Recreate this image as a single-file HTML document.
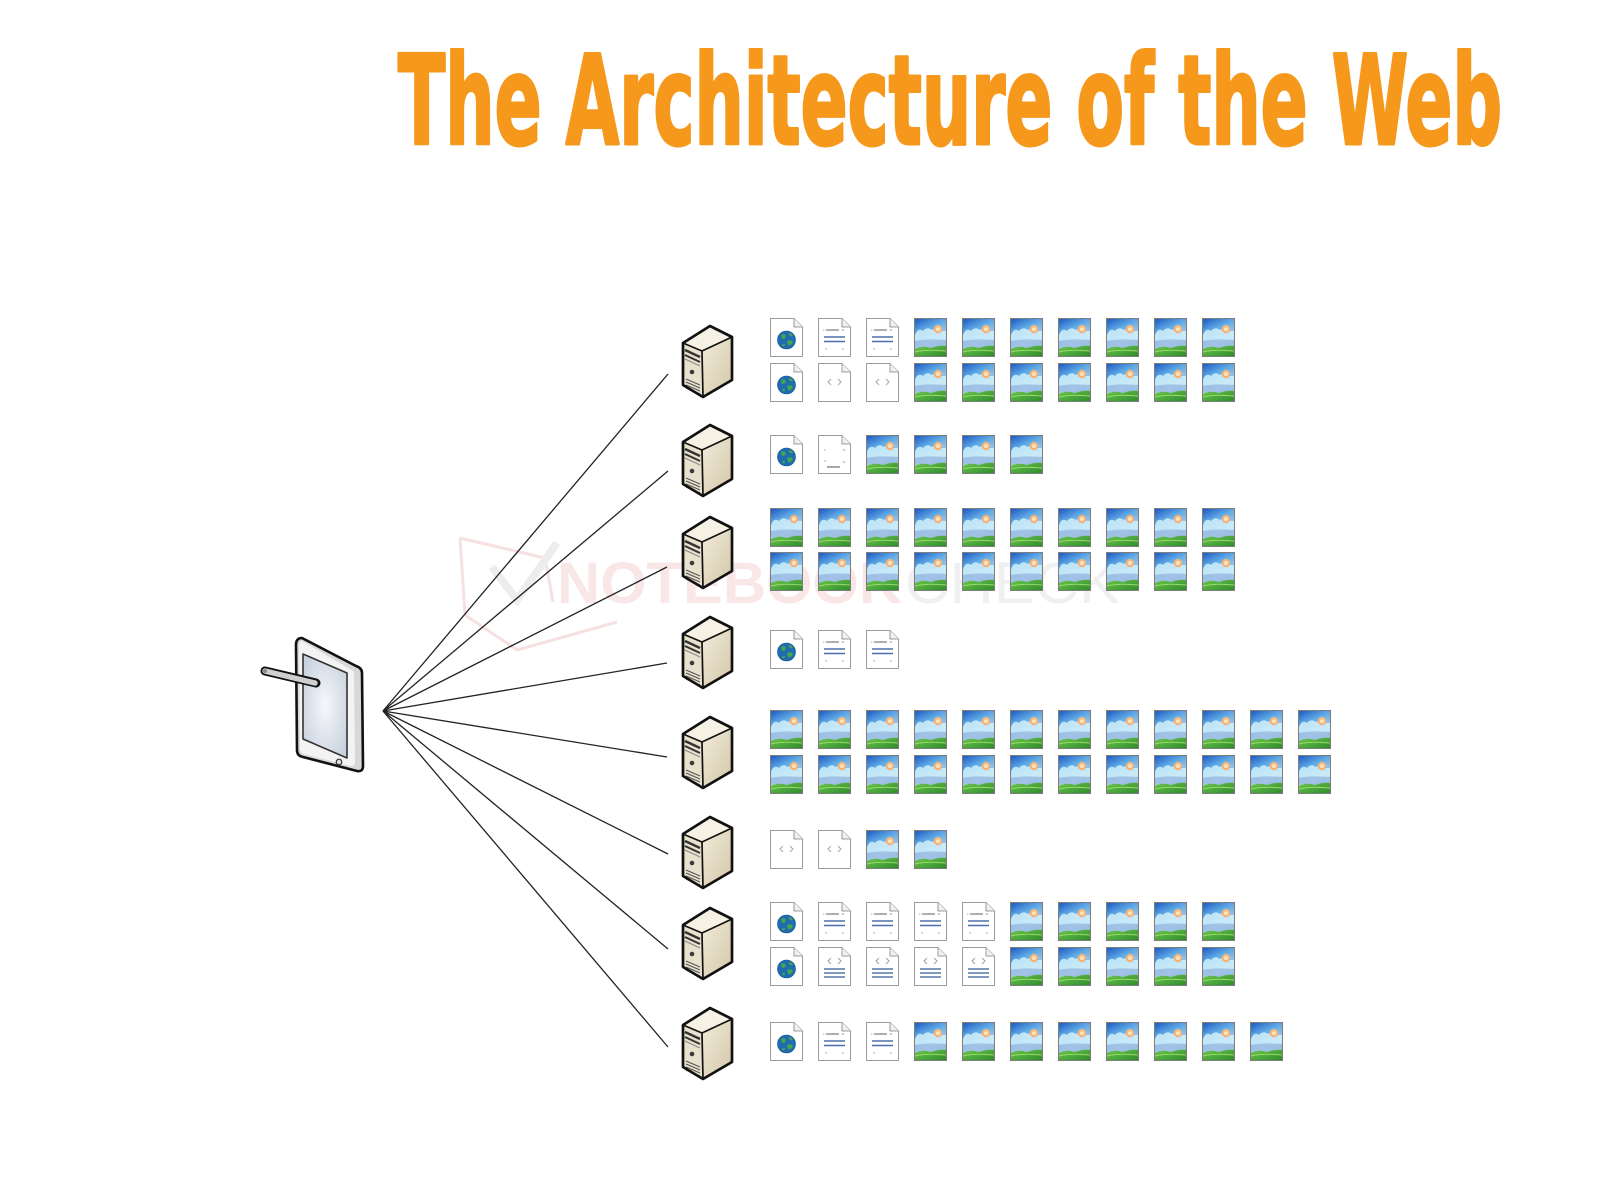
<!DOCTYPE html>
<html>
<head>
<meta charset="utf-8">
<style>
html,body{margin:0;padding:0;background:#ffffff;}
svg{display:block;}
</style>
</head>
<body>
<svg width="1600" height="1200" viewBox="0 0 1600 1200" xmlns="http://www.w3.org/2000/svg">
<defs>
  <linearGradient id="sky" x1="0" y1="0" x2="0.4" y2="1">
    <stop offset="0" stop-color="#1c55c2"/>
    <stop offset="0.35" stop-color="#5ea8e6"/>
    <stop offset="0.7" stop-color="#a9cdee"/>
    <stop offset="1" stop-color="#8fb4e0"/>
  </linearGradient>
  <linearGradient id="grass" x1="0" y1="0" x2="1" y2="1">
    <stop offset="0" stop-color="#6cc64a"/>
    <stop offset="1" stop-color="#2e8c2c"/>
  </linearGradient>
  <linearGradient id="side" x1="0" y1="0" x2="1" y2="1">
    <stop offset="0" stop-color="#f2ecdc"/>
    <stop offset="1" stop-color="#d2c6a6"/>
  </linearGradient>
  <radialGradient id="scr" cx="0.5" cy="0.5" r="0.6">
    <stop offset="0" stop-color="#f6f8fb"/>
    <stop offset="1" stop-color="#c9d2de"/>
  </radialGradient>

  <g id="P">
    <path d="M0.5,0.5 H24 L32.5,9 V38.5 H0.5 Z" fill="#ffffff" stroke="#9c9c9c" stroke-width="1"/>
    <path d="M24,0.5 V9 H32.5" fill="#f1f1f1" stroke="#9c9c9c" stroke-width="1"/>
  </g>
  <g id="G">
    <use href="#P"/>
    <circle cx="16.5" cy="22" r="9" fill="#1f6db0" stroke="#16508a" stroke-width="0.6"/>
    <path d="M11,17 Q14,15 16,18 Q15,21 12,21 Z M17,23 Q21,21 23,24 Q21,28 18,27 Z M13,26 Q15,25 15,28 Q13,29 12,27 Z M19,15 Q22,15 23,18 Q21,19 19,17 Z" fill="#46a64c"/>
  </g>
  <g id="D">
    <use href="#P"/>
    <path d="M8,12 H21" stroke="#7a7a7a" stroke-width="1.2"/>
    <path d="M5,12 H6.5 M24,11 L26,13" stroke="#aaa" stroke-width="1"/>
    <path d="M6,19 H27 M6,23.5 H27" stroke="#4d6fa8" stroke-width="1.5"/>
    <path d="M7,31 H9 M24,31 H26" stroke="#b0b0b0" stroke-width="1"/>
  </g>
  <g id="E">
    <use href="#P"/>
    <path d="M6,15 H8 M25,14 L27,16" stroke="#b0b0b0" stroke-width="1"/>
    <path d="M6,26 H8 M25,26 L27,28" stroke="#b0b0b0" stroke-width="1"/>
    <path d="M9,32 H22" stroke="#6f6f6f" stroke-width="1.2"/>
  </g>
  <g id="C">
    <use href="#P"/>
    <path d="M13,16 L10,19 L13,22 M20,16 L23,19 L20,22" fill="none" stroke="#a8a8a8" stroke-width="1"/>
  </g>
  <g id="L">
    <use href="#P"/>
    <path d="M13,11 L10,14 L13,17 M20,11 L23,14 L20,17" fill="none" stroke="#a0a0a0" stroke-width="1"/>
    <path d="M6,22 H27 M6,26 H27 M6,30 H27" stroke="#5a78ab" stroke-width="1.4"/>
  </g>
  <g id="I">
    <rect x="0.5" y="0.5" width="32" height="38" fill="url(#sky)"/>
    <path d="M1,17 Q4,9 9,13 Q13,8 18,12 Q22,9 26,13 L32,13 L32,22 L1,23 Z" fill="#cfeefa" opacity="0.85"/>
    <path d="M1,23 Q12,20 32,22 L32,30 L1,30 Z" fill="#9fbfe4" opacity="0.8"/>
    <circle cx="24" cy="11" r="4.3" fill="#f3b27a"/>
    <circle cx="24" cy="11" r="2.2" fill="#fbe0b8"/>
    <path d="M1,31 Q9,27 17,30 Q25,27 32,28 L32,38.5 L1,38.5 Z" fill="url(#grass)"/>
    <path d="M1,34 Q12,31 32,33" stroke="#9ad86a" stroke-width="1" fill="none"/>
    <rect x="0.5" y="0.5" width="32" height="38" fill="none" stroke="#7d7d7d" stroke-width="1"/>
  </g>
  <g id="S">
    <path d="M0,17 L27,0 L49,11 L19,25 Z" fill="#f5f1e5"/>
    <path d="M0,17 L19,25 L20,71 L0,59 Z" fill="#e8e1cd"/>
    <path d="M19,25 L49,11 L49,54 L20,71 Z" fill="url(#side)"/>
    <path d="M2,24 L17,31" stroke="#333" stroke-width="2.4"/>
    <path d="M2,29 L17,36" stroke="#333" stroke-width="2"/>
    <path d="M2,33 L17,40" stroke="#888" stroke-width="1"/>
    <circle cx="9" cy="46" r="2.3" fill="#3a3a3a"/>
    <path d="M3,53 L17,59 M3,56 L17,62 M3,59 L17,65 M3,62 L17,68" stroke="#555" stroke-width="1.1"/>
    <path d="M0,17 L19,25 L49,11 M19,25 L20,71" stroke="#111" stroke-width="1.7" fill="none"/>
    <path d="M0,17 L27,0 L49,11 L49,54 L20,71 L0,59 Z" fill="none" stroke="#111" stroke-width="2.7" stroke-linejoin="round"/>
  </g>
</defs>

<text x="398" y="144" font-family="'DejaVu Sans Condensed','DejaVu Sans','Liberation Sans',sans-serif" font-weight="bold" font-size="124" fill="#f6981c" stroke="#f6981c" stroke-width="3" stroke-linejoin="round" textLength="1104" lengthAdjust="spacingAndGlyphs">The Architecture of the Web</text>

<g>
  <path d="M460,538 L465,615 L517,650 L617,622 M460,538 L545,558 L553,602" fill="none" stroke="#f7e0e0" stroke-width="3"/>
  <path d="M492,567 L517,600 L557,543" fill="none" stroke="#ededed" stroke-width="8"/>
  <text x="557" y="603" font-family="'Liberation Sans',sans-serif" font-weight="bold" font-size="58" fill="#f9e6e6" textLength="345" lengthAdjust="spacingAndGlyphs">NOTEBOOK</text>
  <text x="905" y="603" font-family="'Liberation Sans',sans-serif" font-size="58" fill="#f0f0f0" textLength="215" lengthAdjust="spacingAndGlyphs">CHECK</text>
</g>

<g stroke="#222" stroke-width="1.3" fill="none">
  <line x1="383" y1="711" x2="668" y2="374"/>
  <line x1="383" y1="711" x2="668" y2="471"/>
  <line x1="383" y1="711" x2="667" y2="567"/>
  <line x1="383" y1="711" x2="667" y2="663"/>
  <line x1="383" y1="711" x2="667" y2="757"/>
  <line x1="383" y1="711" x2="668" y2="854"/>
  <line x1="383" y1="711" x2="668" y2="949"/>
  <line x1="383" y1="711" x2="668" y2="1047"/>
</g>

<g>
  <path d="M302,638 Q296,638 296,645 L297,750 Q297,756 303,757 L357,771 Q363,772 363,766 L362,673 Q362,668 356,666 Z" fill="#d8d8d8" stroke="#111" stroke-width="2.6" stroke-linejoin="round"/>
  <path d="M302,641 Q299,641 299,646 L300,749 Q300,753 304,754 L350,766 Q355,767 355,762 L354,674 Q354,670 350,669 Z" fill="#f3f3f3"/>
  <path d="M303,654 L347,673 L347,758 L303,739 Z" fill="url(#scr)" stroke="#333" stroke-width="1.6" stroke-linejoin="round"/>
  <circle cx="339" cy="762" r="2.8" fill="#ddd" stroke="#333" stroke-width="1.2"/>
  <line x1="265" y1="671" x2="316" y2="683" stroke="#111" stroke-width="9" stroke-linecap="round"/>
  <line x1="265" y1="671" x2="315" y2="683" stroke="#cfcfcf" stroke-width="5.5" stroke-linecap="round"/>
  <circle cx="265" cy="671" r="2" fill="#888"/>
</g>

<use href="#S" x="683" y="326"/>
<use href="#S" x="683" y="425"/>
<use href="#S" x="683" y="517"/>
<use href="#S" x="683" y="617"/>
<use href="#S" x="683" y="717"/>
<use href="#S" x="683" y="817"/>
<use href="#S" x="683" y="908"/>
<use href="#S" x="683" y="1008"/>

<use href="#G" x="770" y="318"/><use href="#D" x="818" y="318"/><use href="#D" x="866" y="318"/>
<use href="#I" x="914" y="318"/><use href="#I" x="962" y="318"/><use href="#I" x="1010" y="318"/><use href="#I" x="1058" y="318"/><use href="#I" x="1106" y="318"/><use href="#I" x="1154" y="318"/><use href="#I" x="1202" y="318"/>
<use href="#G" x="770" y="363"/><use href="#C" x="818" y="363"/><use href="#C" x="866" y="363"/>
<use href="#I" x="914" y="363"/><use href="#I" x="962" y="363"/><use href="#I" x="1010" y="363"/><use href="#I" x="1058" y="363"/><use href="#I" x="1106" y="363"/><use href="#I" x="1154" y="363"/><use href="#I" x="1202" y="363"/>
<use href="#G" x="770" y="435"/><use href="#E" x="818" y="435"/>
<use href="#I" x="866" y="435"/><use href="#I" x="914" y="435"/><use href="#I" x="962" y="435"/><use href="#I" x="1010" y="435"/>
<use href="#I" x="770" y="508"/><use href="#I" x="818" y="508"/><use href="#I" x="866" y="508"/><use href="#I" x="914" y="508"/><use href="#I" x="962" y="508"/><use href="#I" x="1010" y="508"/><use href="#I" x="1058" y="508"/><use href="#I" x="1106" y="508"/><use href="#I" x="1154" y="508"/><use href="#I" x="1202" y="508"/>
<use href="#I" x="770" y="552"/><use href="#I" x="818" y="552"/><use href="#I" x="866" y="552"/><use href="#I" x="914" y="552"/><use href="#I" x="962" y="552"/><use href="#I" x="1010" y="552"/><use href="#I" x="1058" y="552"/><use href="#I" x="1106" y="552"/><use href="#I" x="1154" y="552"/><use href="#I" x="1202" y="552"/>
<use href="#G" x="770" y="630"/><use href="#D" x="818" y="630"/><use href="#D" x="866" y="630"/>
<use href="#I" x="770" y="710"/><use href="#I" x="818" y="710"/><use href="#I" x="866" y="710"/><use href="#I" x="914" y="710"/><use href="#I" x="962" y="710"/><use href="#I" x="1010" y="710"/><use href="#I" x="1058" y="710"/><use href="#I" x="1106" y="710"/><use href="#I" x="1154" y="710"/><use href="#I" x="1202" y="710"/><use href="#I" x="1250" y="710"/><use href="#I" x="1298" y="710"/>
<use href="#I" x="770" y="755"/><use href="#I" x="818" y="755"/><use href="#I" x="866" y="755"/><use href="#I" x="914" y="755"/><use href="#I" x="962" y="755"/><use href="#I" x="1010" y="755"/><use href="#I" x="1058" y="755"/><use href="#I" x="1106" y="755"/><use href="#I" x="1154" y="755"/><use href="#I" x="1202" y="755"/><use href="#I" x="1250" y="755"/><use href="#I" x="1298" y="755"/>
<use href="#C" x="770" y="830"/><use href="#C" x="818" y="830"/><use href="#I" x="866" y="830"/><use href="#I" x="914" y="830"/>
<use href="#G" x="770" y="902"/><use href="#D" x="818" y="902"/><use href="#D" x="866" y="902"/><use href="#D" x="914" y="902"/><use href="#D" x="962" y="902"/>
<use href="#I" x="1010" y="902"/><use href="#I" x="1058" y="902"/><use href="#I" x="1106" y="902"/><use href="#I" x="1154" y="902"/><use href="#I" x="1202" y="902"/>
<use href="#G" x="770" y="947"/><use href="#L" x="818" y="947"/><use href="#L" x="866" y="947"/><use href="#L" x="914" y="947"/><use href="#L" x="962" y="947"/>
<use href="#I" x="1010" y="947"/><use href="#I" x="1058" y="947"/><use href="#I" x="1106" y="947"/><use href="#I" x="1154" y="947"/><use href="#I" x="1202" y="947"/>
<use href="#G" x="770" y="1022"/><use href="#D" x="818" y="1022"/><use href="#D" x="866" y="1022"/>
<use href="#I" x="914" y="1022"/><use href="#I" x="962" y="1022"/><use href="#I" x="1010" y="1022"/><use href="#I" x="1058" y="1022"/><use href="#I" x="1106" y="1022"/><use href="#I" x="1154" y="1022"/><use href="#I" x="1202" y="1022"/><use href="#I" x="1250" y="1022"/>
</svg>
</body>
</html>
